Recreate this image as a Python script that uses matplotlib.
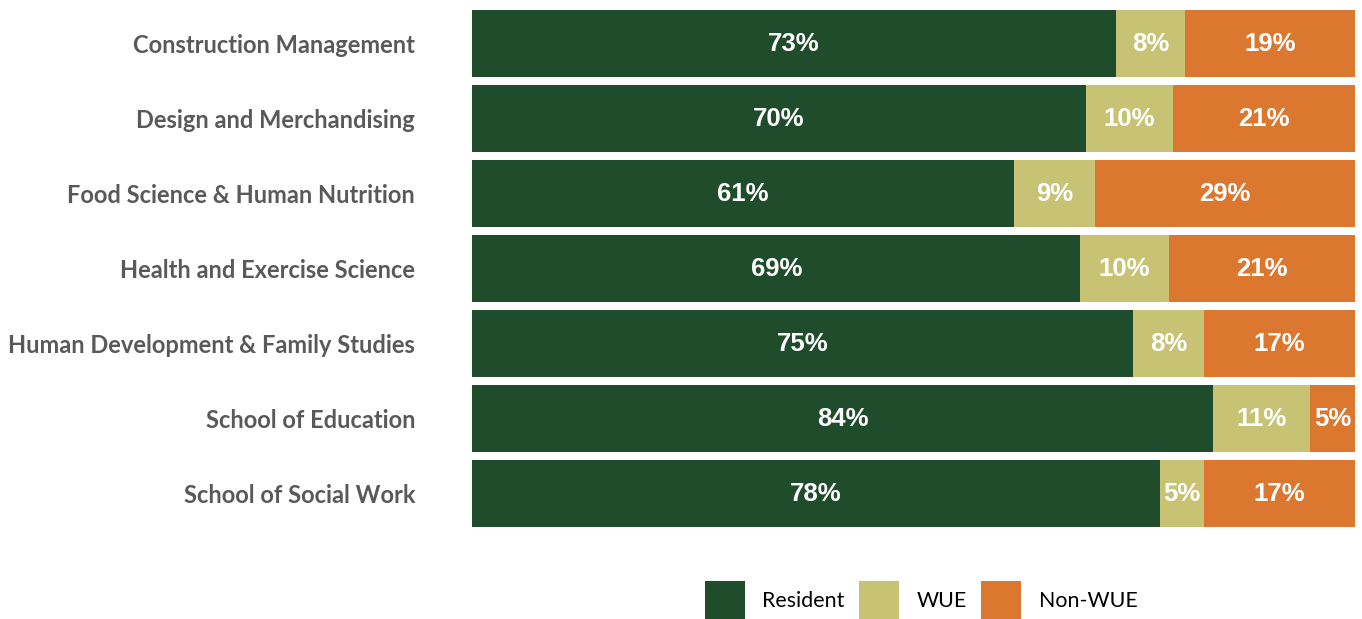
import matplotlib.pyplot as plt
import numpy as np
from matplotlib.patches import Patch

CATEGORIES = [
    "Construction Management",
    "Design and Merchandising",
    "Food Science & Human Nutrition",
    "Health and Exercise Science",
    "Human Development & Family Studies",
    "School of Education",
    "School of Social Work",
]
RESIDENT = [72.9, 69.5, 61.4, 68.9, 74.9, 83.9, 77.9]
WUE = [7.9, 9.9, 9.2, 10.0, 8.0, 11.0, 5.0]
NON_WUE = [19.2, 20.6, 29.4, 21.1, 17.1, 5.1, 17.1]

SERIES = ["Resident", "WUE", "Non-WUE"]
COLORS = {"Resident": "#1f4d2b", "WUE": "#c8c274", "Non-WUE": "#db772e"}

fig = plt.figure(figsize=(13.62, 6.19), dpi=100)
ax = fig.add_axes([472 / 1362, 1 - 531 / 619, 883 / 1362, 525 / 619])

y = np.arange(len(CATEGORIES))
left = np.zeros(len(CATEGORIES))
for name, vals in zip(SERIES, [RESIDENT, WUE, NON_WUE]):
    vals = np.array(vals)
    ax.barh(y, vals, left=left, height=0.893, color=COLORS[name], label=name)
    for yi, l, v in zip(y, left, vals):
        ax.text(l + v / 2, yi, f"{v:.0f}%", ha="center", va="center",
                color="white", fontsize=18.5, fontweight="bold",
                family="Liberation Sans")
    left += vals

ax.set_xlim(0, 100)
ax.set_ylim(len(CATEGORIES) - 0.5, -0.5)
ax.set_yticks(y)
ax.set_yticklabels(CATEGORIES, fontsize=17, fontweight="bold",
                   color="#595959", family="Lato")
ax.tick_params(axis="y", length=0, pad=41)
ax.set_xticks([])
for s in ax.spines.values():
    s.set_visible(False)

handles = [Patch(facecolor=COLORS[n], label=n) for n in SERIES]
fig.legend(handles=handles, loc="center", bbox_to_anchor=(921 / 1362, 1 - 600 / 619),
           ncol=3, frameon=False, prop={"family": "Lato", "size": 15.4},
           handlelength=1.87, handleheight=2.35, handletextpad=0.8,
           columnspacing=0.7, borderaxespad=0)

fig.savefig("out.png", dpi=100)
